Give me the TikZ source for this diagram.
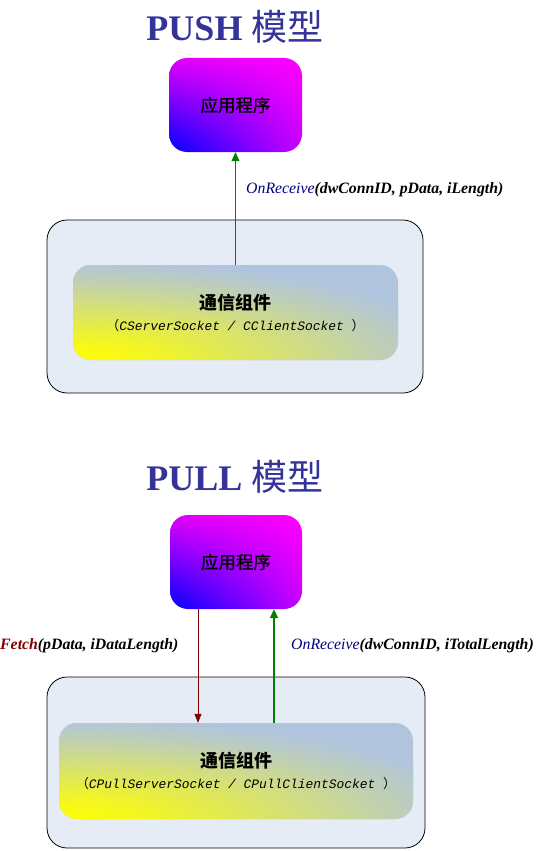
\documentclass[tikz,border=0pt]{standalone}
\usepackage{fontspec}
\setmainfont{Liberation Serif}
\newfontfamily\cjk{Noto Sans CJK SC}
\newfontfamily\cjkmed{Noto Sans CJK SC}[FakeBold=1]
\newfontfamily\monofont{Liberation Mono}
\usetikzlibrary{arrows.meta,shadings}
\definecolor{titleblue}{RGB}{51,51,153}
\definecolor{outerfill}{RGB}{230,236,246}
\definecolor{steel}{RGB}{176,196,222}
\definecolor{cs1}{RGB}{243,246,33}
\definecolor{cs2}{RGB}{225,233,84}
\definecolor{cs3}{RGB}{208,220,133}
\definecolor{cs4}{RGB}{190,207,182}
\definecolor{dkgreen}{RGB}{0,128,0}
\definecolor{dkred}{RGB}{128,0,0}
\definecolor{navyc}{RGB}{0,0,128}
\definecolor{appul}{RGB}{225,0,250}
\definecolor{applr}{RGB}{200,0,255}
\pgfdeclareradialshading{commshade}{\pgfpoint{0bp}{0bp}}{%
  color(0bp)=(yellow); color(5bp)=(cs1); color(10bp)=(cs2); color(15bp)=(cs3);
  color(20bp)=(cs4); color(25bp)=(steel); color(50bp)=(steel)}
\tikzset{
  titlenode/.style={text=titleblue, font=\fontsize{36}{40}\selectfont\bfseries, inner sep=0pt},
  outerbox/.style={draw=black, line width=0.8pt, fill=outerfill, rounded corners=20pt, inner sep=0pt},
  appbox/.style={rounded corners=18pt, inner sep=0pt, lower left=blue, upper right=magenta, upper left=appul, lower right=applr,
    font=\cjkmed\fontsize{17.5}{20}\selectfont},
  commbox/.style n args={2}{rounded corners=18pt, inner sep=0pt, fill=steel, align=center,
    path picture={\shade[shading=commshade] (path picture bounding box.south west) ellipse [x radius=#1, y radius=#2];}},
  greenarrow/.style={draw=dkgreen, -{Triangle[length=9pt,width=8pt]}},
  redarrow/.style={draw=dkred, line width=0.8pt, -{Triangle[length=9pt,width=7pt]}},
  lbl/.style={anchor=west, inner sep=0pt, font=\fontsize{15.8}{17}\selectfont\bfseries\itshape},
}
\newcommand{\commtitle}{{\cjk\bfseries\fontsize{18}{20}\selectfont 通信组件}}
\newcommand{\subt}[1]{{\fontsize{12.9}{14}\selectfont{\cjk （}{\monofont\itshape #1 }{\cjk ）}}}
\begin{document}
\begin{tikzpicture}[x=1pt,y=-1pt]
\useasboundingbox (0,0) rectangle (541,851);
% ---------- PUSH ----------
\node[titlenode] (t1) at (235,27) {PUSH {\cjk\mdseries 模型}};
\node[outerbox, minimum width=376pt, minimum height=173pt] (outer1) at (235,306.5) {};
\node[appbox, minimum width=133pt, minimum height=94pt] (app1) at (235.5,105) {应用程序};
\node[commbox={390pt}{100pt}, minimum width=325pt, minimum height=95pt] (comm1) at (235.5,312.5)
  {\commtitle\\[7pt]\subt{CServerSocket / CClientSocket}};
\draw[greenarrow, line width=0.8pt] (comm1.north) -- (app1.south);
\node[lbl] (l1) at (246,190) {{\mdseries\color{navyc}OnReceive}(dwConnID, pData, iLength)};
% ---------- PULL ----------
\node[titlenode] (t2) at (235,477) {PULL {\cjk\mdseries 模型}};
\node[outerbox, minimum width=378pt, minimum height=171pt] (outer2) at (236,762.5) {};
\node[appbox, minimum width=132pt, minimum height=94pt] (app2) at (236,562) {应用程序};
\node[commbox={425pt}{101pt}, minimum width=354pt, minimum height=96pt] (comm2) at (236,771)
  {\commtitle\\[7pt]\subt{CPullServerSocket / CPullClientSocket}};
\draw[redarrow] ([xshift=-38pt]app2.south) -- ([xshift=-38pt]comm2.north);
\draw[greenarrow, line width=2pt] ([xshift=38pt]comm2.north) -- ([xshift=38pt]app2.south);
\node[lbl] (l2) at (0,646) {{\color{dkred}Fetch}(pData, iDataLength)};
\node[lbl] (l3) at (291,646) {{\mdseries\color{navyc}OnReceive}(dwConnID, iTotalLength)};
\end{tikzpicture}
\end{document}
